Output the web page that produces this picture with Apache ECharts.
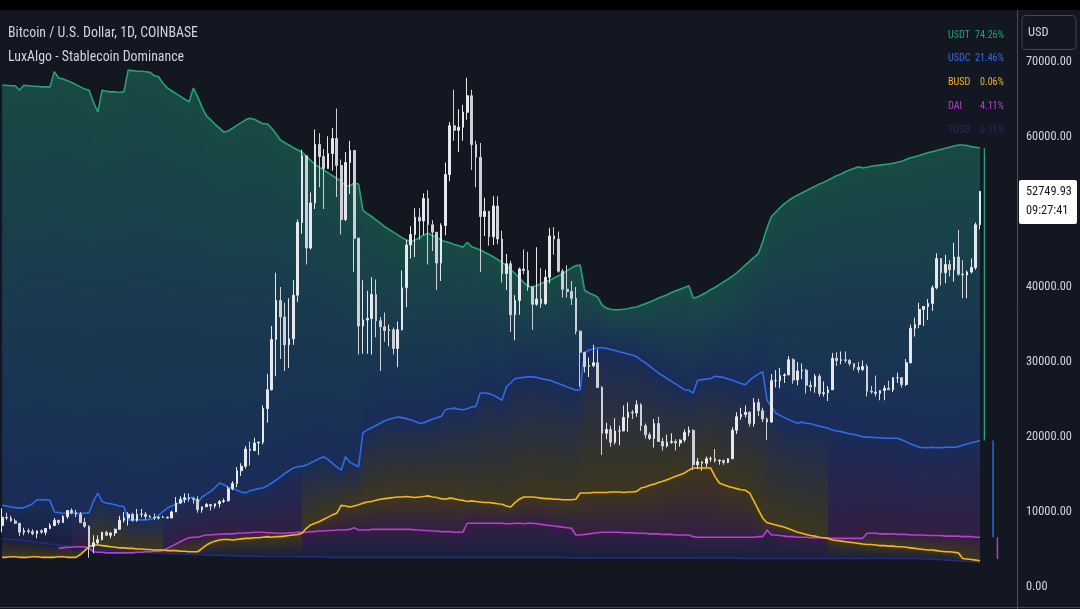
<!DOCTYPE html>
<html><head><meta charset="utf-8">
<script src="https://cdn.jsdelivr.net/npm/echarts@6/dist/echarts.min.js"></script>
<style>html,body{margin:0;padding:0;background:#131722;}#c{width:1080px;height:609px;}</style>
</head><body><div id="c"></div>
<script>
// ---- BTC weekly candles (thousands USD), week starting Mon 21 Oct 2019 ----
const priceOpen = [
 8.2,9.3,9.2,8.8,8.5,7.3,7.5,7.4,7.1,7.5, 7.3,7.8,8.2,8.9,8.6,9.4,10.2,9.9,9.7,8.6,
 8.1,5.4,5.9,6.3,7.3,6.9,7.2,7.7,8.9,9.2, 9.7,8.9,9.7,9.7,9.4,9.3,9.2,9.3,9.3,9.2,
 10.0,11.2,11.7,11.9,11.8,11.7,10.3,10.7,11.0,10.8, 11.1,11.4,11.5,13.1,13.8,15.5,16.1,18.4,18.2,19.2,
 19.3,23.8,26.3,33.0,38.2,36.0,32.3,33.1,38.9,48.6, 57.5,45.2,51.2,59.0,57.4,55.8,57.8,59.8,56.2,49.0,
 56.6,58.2,46.5,34.8,35.6,35.8,39.0,35.5,34.7,34.2, 34.3,31.8,34.3,39.9,45.6,47.0,49.3,48.8,51.8,48.3,
 47.3,43.2,48.2,55.0,61.5,60.9,61.3,63.3,65.5,59.0, 57.3,49.4,50.1,46.7,50.8,46.4,41.8,43.1,36.3,38.2,
 42.4,42.2,40.0,37.7,38.4,37.8,41.3,46.8,46.4,42.1, 39.7,39.4,38.5,34.1,31.3,29.4,29.5,29.9,26.6,20.5,
 21.0,19.3,20.8,20.8,22.6,23.3,23.2,24.3,21.5,20.3, 19.8,21.8,19.4,18.8,19.3,19.4,19.2,19.6,20.6,20.9,
 16.3,16.7,16.5,17.1,17.1,16.8,16.9,16.6,17.1,20.9, 22.7,23.0,23.3,21.8,24.6,23.5,22.4,22.0,27.5,27.5,
 28.2,28.3,30.3,27.6,28.8,28.9,26.9,26.7,28.1,25.8, 25.9,26.3,30.5,30.2,30.3,30.2,29.8,29.3,29.0,29.4,
 26.1,26.0,25.8,26.2,26.5,26.3,27.9,27.9,27.0,29.9, 34.5,35.0,37.0,37.4,37.8,39.9,43.8,41.9,43.0,42.3,
 44.0,41.7,41.6,42.0,42.6,48.3
];
const priceClose = [
 9.3,9.2,8.8,8.5,7.3,7.5,7.4,7.1,7.5,7.3, 7.8,8.2,8.9,8.6,9.4,10.2,9.9,9.7,8.6,8.1,
 5.4,5.9,6.3,7.3,6.9,7.2,7.7,8.9,9.2,9.7, 8.9,9.7,9.7,9.4,9.3,9.2,9.3,9.3,9.2,10.0,
 11.2,11.7,11.9,11.8,11.7,10.3,10.7,11.0,10.8,11.1, 11.4,11.5,13.1,13.8,15.5,16.1,18.4,18.2,19.2,19.3,
 23.8,26.3,33.0,38.2,36.0,32.3,33.1,38.9,48.6,57.5, 45.2,51.2,59.0,57.4,55.8,57.8,59.8,56.2,49.0,56.6,
 58.2,46.5,34.8,35.6,35.8,39.0,35.5,34.7,34.2,34.3, 31.8,34.3,39.9,45.6,47.0,49.3,48.8,51.8,48.3,47.3,
 43.2,48.2,55.0,61.5,60.9,61.3,63.3,65.5,59.0,57.3, 49.4,50.1,46.7,50.8,46.4,41.8,43.1,36.3,38.2,42.4,
 42.2,40.0,37.7,38.4,37.8,41.3,46.8,46.4,42.1,39.7, 39.4,38.5,34.1,31.3,29.4,29.5,29.9,26.6,20.5,21.0,
 19.3,20.8,20.8,22.6,23.3,23.2,24.3,21.5,20.3,19.8, 21.8,19.4,18.8,19.3,19.4,19.2,19.6,20.6,20.9,16.3,
 16.7,16.5,17.1,17.1,16.8,16.9,16.6,17.1,20.9,22.7, 23.0,23.3,21.8,24.6,23.5,22.4,22.0,27.5,27.5,28.2,
 28.3,30.3,27.6,28.8,28.9,26.9,26.7,28.1,25.8,25.9, 26.3,30.5,30.2,30.3,30.2,29.8,29.3,29.0,29.4,26.1,
 26.0,25.8,26.2,26.5,26.3,27.9,27.9,27.0,29.9,34.5, 35.0,37.0,37.4,37.8,39.9,43.8,41.9,43.0,42.3,44.0,
 41.7,41.6,42.0,42.6,48.3,52.75
];
const priceHigh = [
 10.5,9.9,9.5,9.1,8.5,7.9,7.8,7.7,7.5,7.7, 7.9,8.5,9.2,8.9,9.6,10.2,10.5,10.3,10.0,9.2,
 8.2,6.9,6.9,7.3,7.5,7.3,7.8,9.5,10.0,10.0, 9.9,10.4,10.4,10.0,9.6,9.8,9.4,9.5,9.4,10.2,
 12.0,12.1,12.5,12.5,11.8,12.1,10.7,11.2,11.0,11.1, 11.6,11.8,13.4,14.1,16.0,16.5,18.8,19.4,19.9,19.4,
 24.2,28.4,34.8,41.9,40.0,37.9,38.5,40.9,49.0,58.3, 57.5,52.6,61.0,60.5,58.4,60.1,61.2,63.8,57.0,58.0,
 59.5,58.2,46.6,40.9,39.5,41.3,41.0,36.0,36.6,35.0, 34.6,35.4,42.2,46.3,48.1,50.5,50.5,52.5,52.9,48.9,
 47.3,48.5,56.6,62.0,66.3,63.7,64.3,67.9,66.3,59.5, 59.2,51.9,50.1,52.1,52.1,47.5,44.4,43.5,38.9,42.6,
 45.0,44.7,40.0,45.3,42.5,42.3,47.9,48.0,47.4,42.4, 42.9,40.8,40.0,34.2,31.3,30.6,32.3,31.7,26.8,21.9,
 21.5,22.5,21.5,24.2,24.6,23.6,24.9,24.5,21.8,20.6, 22.4,22.7,19.9,20.3,20.5,19.7,19.7,21.0,21.4,21.0,
 17.2,16.8,17.4,17.4,18.4,17.0,16.9,17.2,21.3,23.3, 23.9,24.2,23.4,25.2,25.1,23.9,22.6,28.4,28.9,29.2,
 28.5,30.8,30.5,30.0,29.8,29.1,27.5,28.4,28.4,27.4, 26.8,31.2,31.3,31.4,31.4,30.4,29.8,30.0,30.2,29.7,
 26.8,28.2,26.1,26.9,27.5,28.0,28.6,28.0,30.4,35.0, 35.9,37.9,37.4,38.4,40.2,44.5,43.8,44.3,43.6,45.9,
 47.6,43.6,42.2,43.8,48.6,52.8
];
const priceLow = [
 7.3,8.9,8.7,8.4,6.8,6.9,7.1,6.9,6.5,7.1, 6.9,7.7,8.1,8.3,8.6,9.1,9.7,9.3,8.5,7.9,
 3.9,4.5,5.7,6.2,6.8,6.5,6.8,7.7,8.6,8.2, 8.7,8.7,9.3,9.0,9.2,8.9,9.0,9.2,9.1,9.2,
 10.0,11.1,11.2,11.4,11.1,9.9,9.9,10.7,10.2,10.5, 10.6,11.2,11.4,12.9,13.3,14.8,15.8,16.2,18.1,17.6,
 19.0,21.9,26.2,28.1,30.4,28.8,29.2,32.3,38.0,47.1, 43.0,45.0,50.4,53.3,50.4,55.8,55.5,52.0,47.0,48.8,
 52.4,42.0,31.0,31.1,31.1,31.0,33.3,28.8,32.7,32.1, 31.0,29.3,34.2,37.3,43.8,44.0,46.3,46.9,43.0,44.8,
 39.6,40.8,46.9,54.1,59.5,58.0,59.5,62.3,55.6,53.3, 42.0,46.8,45.5,45.6,45.7,40.6,39.6,34.0,32.9,36.3,
 41.7,39.5,34.3,37.5,37.2,37.6,40.5,44.3,41.9,38.6, 38.6,37.6,33.7,26.7,28.6,28.0,29.3,26.6,17.6,19.7,
 18.7,19.0,18.9,20.8,20.7,22.4,22.7,20.8,19.8,19.6, 18.6,19.4,18.2,18.6,19.1,18.2,18.7,19.3,20.1,15.6,
 15.8,15.5,16.0,16.7,16.6,16.3,16.3,16.5,17.1,20.4, 22.3,22.6,21.4,21.4,22.8,22.0,19.6,21.9,26.6,26.5,
 27.2,28.2,27.1,26.9,27.7,25.8,26.1,25.9,25.4,25.4, 24.8,26.3,29.5,29.7,29.9,29.5,28.9,28.6,28.8,25.4,
 25.8,25.4,24.9,24.9,26.4,26.0,27.2,26.6,26.8,29.8, 33.4,34.5,34.8,35.6,36.8,39.7,40.2,40.5,41.4,40.7,
 41.5,38.5,38.5,41.8,42.3,47.7
];
// ---- Stablecoin dominance (% of stablecoin market cap), same weeks ----
const usdt = [
 85.5,85.5,85.4,85.4,84.6,85.5,85.4,85.3,85.3,85.2, 85.2,85.2,87.9,86.8,86.6,86.3,86.0,85.6,85.2,84.8,
 84.6,82.5,80.7,84.6,84.4,84.3,84.3,84.2,84.3,88.2, 88.1,88.0,88.0,87.9,87.8,87.2,87.0,85.8,85.0,84.5,
 84.0,83.5,83.0,82.5,85.0,83.4,81.5,80.0,79.3,78.5, 77.8,77.1,77.3,77.8,78.3,78.8,79.3,79.6,79.4,79.0,
 78.6,78.6,77.8,76.8,75.7,75.2,74.8,74.3,73.9,73.5, 72.8,72.0,71.3,70.8,70.3,69.8,69.3,68.8,68.3,67.5,
 67.5,68.0,67.8,63.1,62.5,62.0,61.4,60.8,60.2,59.7, 59.2,58.7,58.2,57.8,57.5,57.8,58.2,58.7,59.0,58.6,
 58.3,57.8,57.5,57.3,57.0,56.8,56.5,57.4,56.6,56.3, 56.0,55.6,55.2,54.8,54.3,53.8,53.2,52.5,51.8,51.0,
 50.2,49.5,49.4,49.6,50.0,50.3,50.6,51.0,51.4,51.8, 52.3,52.8,53.2,53.3,48.8,48.3,48.0,47.6,46.2,45.6,
 45.4,45.3,45.3,45.4,45.5,45.7,45.8,46.1,46.4,46.7, 47.0,47.4,47.7,48.0,48.4,48.7,49.0,49.3,49.6,47.4,
 47.6,48.0,48.4,48.9,49.3,49.8,50.3,50.8,51.3,51.9, 52.6,53.3,54.0,54.7,55.4,57.5,60.0,62.0,62.8,63.6,
 64.3,64.9,65.4,65.8,66.2,66.6,67.0,67.4,67.8,68.1, 68.5,68.9,69.3,69.6,70.0,70.3,70.6,70.9,70.7,70.8,
 71.0,71.1,71.2,71.3,71.4,71.5,71.7,71.9,72.2,72.5, 72.7,72.9,73.2,73.4,73.6,73.8,74.0,74.2,74.4,74.6,
 74.8,74.8,74.7,74.5,74.4,74.26
];
const usdc = [
 10.3,10.2,10.0,9.9,9.8,9.9,10.2,10.6,11.3,11.3, 11.3,11.2,9.1,9.0,8.9,8.9,8.9,8.9,8.9,8.9,
 9.0,11.0,12.5,11.0,10.7,10.6,10.4,10.2,10.1,7.7, 7.7,7.7,7.7,7.7,7.8,8.0,8.5,9.2,9.8,10.2,
 10.5,10.8,11.3,11.6,11.8,10.7,11.8,12.3,12.8,13.5, 14.3,14.0,13.6,13.3,13.0,12.7,12.5,12.9,13.1,13.3,
 13.4,13.8,14.3,14.8,15.4,16.0,16.5,17.0,17.2,17.3, 17.5,17.9,18.3,18.7,19.0,18.5,17.8,17.2,16.6,19.0,
 18.0,17.6,17.2,23.3,23.8,24.2,24.6,25.0,25.4,25.7, 25.9,26.1,26.0,25.8,25.6,25.3,25.0,25.1,25.4,25.7,
 26.0,26.2,27.4,27.6,27.7,27.5,27.4,27.6,27.9,28.0, 30.4,30.4,30.3,30.0,29.6,29.1,31.5,32.2,33.0,33.1,
 33.2,33.3,33.3,33.2,33.0,32.8,32.7,32.4,32.1,31.8, 31.5,31.2,30.9,31.0,37.6,38.1,38.3,38.5,38.5,38.4,
 38.2,38.0,37.8,37.6,37.4,37.2,36.9,36.3,35.8,35.2, 34.6,34.0,33.5,33.0,32.5,32.0,31.5,31.0,30.9,30.4,
 32.7,32.8,32.9,33.0,33.4,33.3,33.2,32.9,32.7,32.4, 32.1,31.9,32.7,33.3,33.8,34.2,29.1,28.0,26.8,26.4,
 26.0,25.6,25.3,25.0,25.2,25.0,24.9,24.7,24.5,24.3, 24.1,23.8,23.6,23.5,23.3,23.1,23.0,22.8,22.6,22.5,
 22.5,22.4,22.4,22.3,22.3,22.3,22.3,22.0,21.7,21.3, 21.0,20.7,20.6,20.6,20.7,20.6,20.6,20.7,20.7,20.7,
 20.8,21.1,21.3,21.5,21.7,21.9
];
const busd = [
 1.0,1.0,1.1,1.1,1.0,1.0,1.0,1.1,1.1,1.0, 1.0,1.0,1.0,1.1,1.1,1.0,1.0,1.0,1.5,2.2,
 2.9,3.2,3.2,3.1,3.0,2.9,2.8,2.7,2.7,2.6, 2.6,2.5,2.5,2.4,2.4,2.3,2.3,2.3,2.2,2.2,
 2.2,2.1,2.1,2.0,2.0,2.0,2.6,3.2,3.6,3.9, 4.1,4.2,4.2,4.1,4.2,4.3,4.4,4.4,4.5,4.5,
 4.6,4.7,4.6,4.7,4.7,4.8,4.9,5.0,5.1,5.3, 6.2,6.8,7.1,7.4,7.8,8.2,8.6,8.9,10.3,10.2,
 10.0,10.2,10.4,10.7,10.9,11.0,11.2,11.4,11.5,11.6, 11.7,11.8,11.8,11.9,11.8,11.7,11.8,11.9,12.0,11.8,
 11.7,11.5,11.4,11.6,11.5,11.3,11.2,11.0,11.1,11.0, 10.9,10.8,10.8,10.7,10.6,10.5,10.2,10.0,10.8,11.4,
 11.8,11.8,11.8,11.7,11.6,11.5,11.5,11.4,11.4,11.3, 11.3,11.3,11.4,12.5,12.5,12.5,12.6,12.6,12.6,12.6,
 12.7,12.7,12.7,12.6,12.7,12.7,12.8,13.4,13.6,13.9, 14.1,14.4,14.6,14.9,15.2,15.5,15.8,16.1,16.6,17.0,
 17.0,17.0,17.0,17.0,15.5,14.3,14.0,13.7,13.5,13.3, 13.1,13.0,12.5,11.0,9.5,8.0,7.2,7.0,6.8,6.6,
 6.4,6.1,5.8,5.5,5.3,5.1,4.9,4.8,4.6,4.5, 4.4,4.1,4.0,3.9,3.8,3.7,3.6,3.5,3.4,3.3,
 3.3,3.2,3.1,3.1,3.0,3.0,2.9,2.9,2.8,2.7, 2.6,2.5,2.4,2.3,2.3,2.2,2.1,2.0,2.0,1.9,
 1.8,0.8,0.7,0.6,0.5,0.4
];
const dai = [
 null,null,null,null,null,null,null,null,null,null, null,null,null,2.6,2.7,2.8,2.8,2.9,2.9,2.9,
 2.6,2.0,1.9,1.9,1.8,1.8,1.8,1.8,1.8,1.8, 1.8,1.9,1.9,2.0,2.0,2.1,2.1,2.2,2.6,3.0,
 3.4,3.8,4.2,4.5,4.6,4.6,4.8,5.0,5.0,5.1, 5.1,5.2,5.2,5.2,5.3,5.3,5.4,5.4,5.5,5.5,
 5.5,5.4,5.4,5.3,5.3,5.3,5.4,5.4,5.5,5.5, 5.5,5.6,5.6,5.7,5.7,5.8,5.8,5.9,5.9,5.9,
 6.0,6.3,5.9,5.9,5.9,6.0,6.0,6.0,6.0,6.0, 6.0,6.0,6.0,6.0,6.0,5.9,5.9,5.8,5.8,5.7,
 5.7,5.6,5.6,5.6,5.5,5.5,5.5,7.1,7.1,7.1, 7.1,7.1,7.1,7.1,7.1,7.1,7.0,7.0,7.1,7.1,
 7.0,7.1,7.1,7.0,6.9,6.8,6.7,6.6,6.5,6.4, 6.3,6.2,5.0,5.0,5.1,5.2,5.3,5.4,5.5,5.5,
 5.5,5.5,5.5,5.4,5.4,5.4,5.3,5.3,5.3,5.2, 5.2,5.2,5.1,5.1,5.1,5.0,5.0,5.0,5.0,4.7,
 4.6,4.6,4.6,4.6,4.6,4.6,4.6,4.6,4.6,4.6, 4.6,4.6,4.6,4.6,4.7,4.7,5.9,5.0,5.0,4.9,
 4.8,4.7,4.7,4.6,4.6,4.6,4.5,4.5,4.5,4.5, 4.4,4.4,4.4,4.4,4.4,4.4,4.4,4.4,4.4,5.3,
 5.3,5.3,5.2,5.2,5.2,5.2,5.1,5.1,5.1,5.0, 5.0,5.0,5.0,4.9,4.9,4.9,4.9,4.8,4.8,4.8,
 4.8,4.7,4.7,4.7,4.6,4.6
];
const tusd = [
 4.4,4.3,4.2,4.2,4.1,4.0,3.9,3.8,3.7,3.6, 3.5,3.4,3.3,3.2,3.1,3.0,2.9,2.8,2.8,2.7,
 2.6,2.5,2.4,2.4,2.3,2.3,2.2,2.2,2.1,2.1, 2.0,2.0,1.9,1.9,1.9,1.8,1.8,1.8,1.7,1.7,
 1.7,1.6,1.6,1.6,1.5,1.5,1.5,1.4,1.4,1.4, 1.4,1.3,1.3,1.3,1.3,1.2,1.2,1.2,1.2,1.2,
 1.1,1.1,1.1,1.1,1.1,1.1,1.1,1.1,1.1,1.1, 1.1,1.1,1.1,1.1,1.1,1.0,1.0,1.0,1.0,1.0,
 1.0,1.0,1.0,1.0,1.0,1.0,1.0,1.0,1.0,1.0, 1.0,1.0,1.0,1.0,1.0,1.0,1.0,1.0,1.0,1.0,
 1.0,1.0,1.0,1.0,1.0,1.0,1.0,1.0,1.0,1.0, 1.0,1.0,1.0,1.0,1.0,1.0,1.0,1.0,1.0,1.0,
 1.0,1.0,1.0,1.0,1.0,1.0,1.0,1.0,1.0,1.0, 0.9,0.9,0.9,0.9,0.9,0.9,0.9,0.9,0.9,0.9,
 0.9,0.9,0.9,0.9,0.9,0.9,0.9,0.9,0.9,0.9, 0.9,0.9,0.9,0.9,0.9,0.9,0.9,0.9,0.9,0.9,
 0.9,0.9,0.9,0.9,0.9,0.9,0.9,0.9,0.9,0.9, 0.8,0.8,0.8,0.8,0.8,0.8,0.8,0.8,0.8,0.8,
 0.8,0.8,0.8,0.8,0.8,0.8,0.8,0.8,0.8,0.8, 0.8,0.8,0.8,0.8,0.8,0.8,0.8,0.8,0.8,0.8,
 0.8,0.8,0.8,0.8,0.8,0.8,0.8,0.8,0.8,0.8, 0.8,0.8,0.7,0.7,0.7,0.6,0.6,0.5,0.5,0.4,
 0.4,0.3,0.3,0.2,0.2,0.1
];
const legendNames = ['USDT','USDC','BUSD','DAI','TUSD'];
const legendValues = ['74.26%','21.46%','0.06%','4.11%','0.11%'];
const priceTicks = [0,10,20,30,40,50,60,70];
const lastPriceText = '52749.93';
const countdownText = '09:27:41';
const titleLines = ['Bitcoin / U.S. Dollar, 1D, COINBASE','LuxAlgo - Stablecoin Dominance'];
const totalSlots = 234; // weekly slots incl. right margin

// categories: week labels
const categories = [];
for (let i = 0; i < totalSlots; i++) {
  const d = new Date(Date.UTC(2019, 9, 21 + 7 * i));
  categories.push(d.toISOString().slice(0, 10));
}

const FONT = "'Roboto Condensed','Liberation Sans Narrow','Arial Narrow',Roboto,sans-serif";
// text metrics: fit the condensed look of the reference
const mctx = document.createElement('canvas').getContext('2d');
const textW = (t, size) => { mctx.font = `${size}px ${FONT}`; return mctx.measureText(t).width; };
const clamp = (v, lo, hi) => Math.min(hi, Math.max(lo, v));
const axisFs = clamp(12 * 46 / textW('70000.00', 12), 10, 14);
const titleSx = clamp(190 / textW(titleLines[0], 14), 0.7, 1.15);
const legNameSx = clamp(22 / textW('USDT', 10.5), 0.7, 1.15);
const legValSx = clamp(29 / textW('74.26%', 10.5), 0.7, 1.15);
const usdFs = clamp(12 * 20.5 / textW('USD', 12), 10, 14);

const BG = [19,23,34];
const coins = [
  {name:'USDT', data:usdt, line:'#26a17b', fill:[34,166,128], a:0.36},
  {name:'USDC', data:usdc, line:'#2f6ce5', fill:[45,100,235], a:0.27},
  {name:'BUSD', data:busd, line:'#f2b620', fill:[240,185,11], a:0.19},
  {name:'DAI',  data:dai,  line:'#b93fcf', fill:[185,63,207], a:0.19},
  {name:'TUSD', data:tusd, line:'#232c75', fill:[38,48,126], a:0.30}
];
const mix = (c, a) => `rgb(${c.map((v, k) => Math.round(BG[k] + (v - BG[k]) * a)).join(',')})`;

const ohlc = priceOpen.map((o, i) => [o, priceClose[i], priceLow[i], priceHigh[i]]);
const segs = usdt.slice(0, -1).map((v, i) => [i, v]);
const last = usdt.length - 1;

const series = [];
series.push({
  type:'custom', xAxisIndex:0, yAxisIndex:1, silent:true, z:1, animation:false,
  data: segs, encode:{x:0, y:1}, clip:false,
  renderItem(params, api) {
    const i = api.value(0);
    const list = coins.map(c => ({c, a:c.data[i], b:c.data[i+1]}))
      .filter(o => o.a != null && o.b != null);
    list.sort((p, q) => (q.a + q.b) - (p.a + p.b));
    const children = [];
    for (let k = 0; k < list.length - 1; k++) {
      const up = list[k], lo = list[k+1];
      const p1 = api.coord([i, up.a]), p2 = api.coord([i+1, up.b]);
      const p3 = api.coord([i+1, lo.b]), p4 = api.coord([i, lo.a]);
      const yTop = (p1[1] + p2[1]) / 2;
      const yBot = Math.max((p3[1] + p4[1]) / 2, yTop + 1);
      const ext = (i + 1 < segs.length) ? 0.8 : 0;
      children.push({
        type:'polygon',
        shape:{points:[[p1[0], p1[1]], [p2[0] + ext, p2[1]], [p3[0] + ext, p3[1]], [p4[0], p4[1]]]},
        style:{fill:new echarts.graphic.LinearGradient(0, yTop, 0, yBot, [
          {offset:0, color:mix(up.c.fill, up.c.a)},
          {offset:1, color:mix(lo.c.fill, lo.c.a)}], true)}
      });
    }
    return {type:'group', children};
  }
});
coins.slice().reverse().forEach(c => series.push({
  type:'line', name:c.name, xAxisIndex:0, yAxisIndex:1, data:c.data,
  showSymbol:false, symbol:'none', silent:true, z:2, animation:false,
  lineStyle:{color:c.line, width:1.6}
}));
// closing vertical strokes at the right edge of the indicator
const edges = [
  {off:1.4, from:usdt[last], to:usdc[last], color:coins[0].line},
  {off:2.8, from:usdc[last], to:dai[last], color:coins[1].line},
  {off:4.2, from:dai[last], to:tusd[last] + 0.6, color:coins[3].line}
];
edges.forEach(e => series.push({
  type:'line', xAxisIndex:0, yAxisIndex:1, showSymbol:false, symbol:'none', silent:true, z:2,
  animation:false, data:[[last + e.off, e.from], [last + e.off, e.to]],
  lineStyle:{color:e.color, width:1.4}
}));
series.push({
  type:'candlestick', xAxisIndex:0, yAxisIndex:0, data:ohlc, z:3, barWidth:2.2, animation:false,
  itemStyle:{color:'#e6e8ed', color0:'#cdd0d7', borderColor:'#e6e8ed', borderColor0:'#cdd0d7', borderWidth:1}
});

const chart = echarts.init(document.getElementById('c'), null, {renderer:'canvas'});
chart.setOption({
  backgroundColor:'#131722',
  animation:false,
  grid:{left:0, right:63, top:62, bottom:22, containLabel:false},
  xAxis:{type:'category', data:categories, boundaryGap:true, show:false},
  yAxis:[
    {type:'value', position:'right', min:priceTicks[0], max:priceTicks[priceTicks.length-1], interval:10,
     axisLine:{show:false}, axisTick:{show:false}, splitLine:{show:false},
     axisLabel:{color:'#d1d4dc', fontSize:axisFs, fontFamily:FONT, margin:9, showMinLabel:true, showMaxLabel:true,
       formatter:v => (v * 1000).toFixed(2)}},
    {type:'value', min:-4.31, max:89.65, show:false}
  ],
  series
});

const yLast = chart.convertToPixel({yAxisIndex:0}, priceClose[last]);
const graphics = [
  {type:'rect', z:100, shape:{x:0, y:0, width:1080, height:10}, style:{fill:'#000'}},
  {type:'line', z:100, shape:{x1:1017.5, y1:10, x2:1017.5, y2:609}, style:{stroke:'#4a4e59', lineWidth:1}},
  {type:'line', z:100, shape:{x1:0, y1:607.5, x2:1080, y2:607.5}, style:{stroke:'#434651', lineWidth:1}},
  {type:'rect', z:100, shape:{x:1022, y:15.5, width:54, height:34, r:4}, style:{fill:'none', stroke:'#434651', lineWidth:1}},
  {type:'text', z:101, x:1028, y:32.5, style:{text:'USD', fill:'#d1d4dc', font:`${usdFs}px ${FONT}`, textVerticalAlign:'middle'}},
  {type:'rect', z:100, shape:{x:1019, y:yLast - 11.5, width:58, height:44, r:2}, style:{fill:'#ffffff'}},
  {type:'text', z:101, x:1026, y:yLast + 1, style:{text:lastPriceText, fill:'#131722', font:`${axisFs}px ${FONT}`, textVerticalAlign:'middle'}},
  {type:'text', z:101, x:1026, y:yLast + 20, style:{text:countdownText, fill:'#131722', font:`${axisFs}px ${FONT}`, textVerticalAlign:'middle'}},
  {type:'text', z:101, x:8, y:33, scaleX:titleSx, style:{text:titleLines[0], fill:'#d1d4dc', font:`14px ${FONT}`, textVerticalAlign:'middle'}},
  {type:'text', z:101, x:8, y:57, scaleX:titleSx, style:{text:titleLines[1], fill:'#d1d4dc', font:`14px ${FONT}`, textVerticalAlign:'middle'}}
];
const legendColors = ['#26a17b','#2f6ce5','#f2b620','#b93fcf','#262b66'];
legendNames.forEach((n, k) => {
  const y = 35 + k * 23.8;
  graphics.push({type:'text', z:101, x:948, y, scaleX:legNameSx, style:{text:n, fill:legendColors[k], font:`10.5px ${FONT}`, textVerticalAlign:'middle'}});
  graphics.push({type:'text', z:101, x:1004, y, scaleX:legValSx, style:{text:legendValues[k], fill:legendColors[k], font:`10.5px ${FONT}`, textAlign:'right', textVerticalAlign:'middle'}});
});
chart.setOption({graphic:graphics});
</script></body></html>
